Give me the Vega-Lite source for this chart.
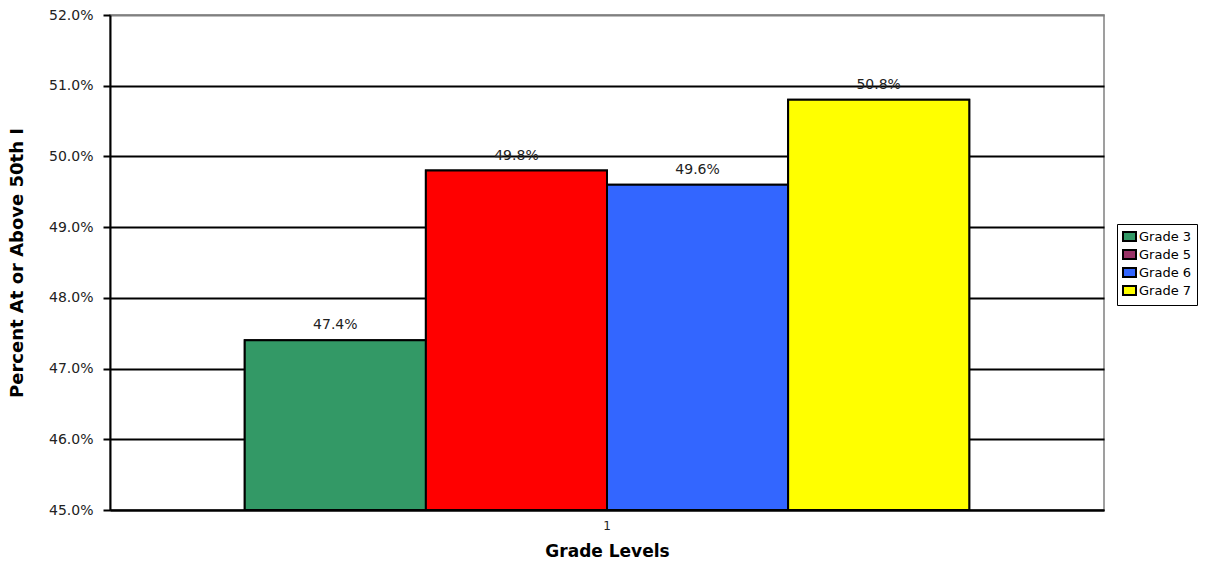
{
  "$schema": "https://vega.github.io/schema/vega-lite/v6.json",
  "width": 994,
  "height": 495,
  "autosize": "none",
  "padding": {"left": 110, "top": 15, "right": 113, "bottom": 52},
  "background": "white",
  "config": {
    "view": {"stroke": "#808080", "strokeWidth": 1.5},
    "font": "DejaVu Sans"
  },
  "data": {
    "values": [
      {"level": "1", "grade": "Grade 3", "pct": 0.474},
      {"level": "1", "grade": "Grade 5", "pct": 0.498},
      {"level": "1", "grade": "Grade 6", "pct": 0.496},
      {"level": "1", "grade": "Grade 7", "pct": 0.508}
    ]
  },
  "encoding": {
    "x": {
      "field": "level",
      "type": "nominal",
      "scale": {"paddingInner": 0, "paddingOuter": 0.186},
      "axis": {
        "title": "Grade Levels",
        "titleFontSize": 17,
        "titleFontWeight": "bold",
        "titleColor": "black",
        "titlePadding": 12,
        "labelAngle": 0,
        "labelFontSize": 12,
        "labelColor": "#222",
        "labelPadding": 10,
        "ticks": false,
        "domainColor": "black",
        "domainWidth": 2
      }
    },
    "xOffset": {
      "field": "grade",
      "type": "nominal",
      "scale": {"paddingInner": 0, "paddingOuter": 0}
    },
    "y": {
      "field": "pct",
      "type": "quantitative",
      "scale": {"domain": [0.45, 0.52], "zero": false, "nice": false},
      "axis": {
        "title": "Percent At or Above 50th I",
        "titleFontSize": 18,
        "titleFontWeight": "bold",
        "titleColor": "black",
        "titleX": -93,
        "titleBaseline": "middle",
        "values": [0.45, 0.46, 0.47, 0.48, 0.49, 0.5, 0.51, 0.52],
        "format": ".1%",
        "labelFontSize": 14,
        "labelColor": "#222",
        "labelPadding": 10,
        "tickColor": "black",
        "tickSize": 7,
        "tickWidth": 2,
        "domainColor": "black",
        "domainWidth": 2,
        "grid": true,
        "gridColor": {"condition": {"test": "datum.value >= 0.5199", "value": "#808080"}, "value": "black"},
        "gridWidth": 2
      }
    }
  },
  "layer": [
    {
      "mark": {"type": "bar", "stroke": "black", "strokeWidth": 2},
      "encoding": {
        "y2": {"datum": 0.45},
        "color": {
          "field": "grade",
          "type": "nominal",
          "scale": {"domain": ["Grade 3", "Grade 5", "Grade 6", "Grade 7"], "range": ["#339966", "#993366", "#3366FF", "#FFFF00"]},
          "legend": {
            "title": null,
            "orient": "none",
            "legendX": 1007,
            "legendY": 209,
            "strokeColor": "black",
            "fillColor": "white",
            "padding": 5,
            "labelFontSize": 13,
            "labelColor": "black",
            "labelOffset": 2,
            "symbolType": "M-1,-0.7L1,-0.7L1,0.7L-1,0.7Z",
            "symbolSize": 169,
            "symbolStrokeColor": "black",
            "symbolStrokeWidth": 2,
            "rowPadding": -1
          }
        }
      }
    },
    {
      "mark": {"type": "bar", "stroke": "black", "strokeWidth": 2},
      "encoding": {
        "y2": {"datum": 0.45},
        "fill": {
          "field": "grade",
          "type": "nominal",
          "scale": {"domain": ["Grade 3", "Grade 5", "Grade 6", "Grade 7"], "range": ["#339966", "#FF0000", "#3366FF", "#FFFF00"]},
          "legend": null
        }
      }
    },
    {
      "mark": {"type": "text", "dy": -15, "fontSize": 14, "color": "#222"},
      "encoding": {
        "text": {"field": "pct", "type": "quantitative", "format": ".1%"}
      }
    }
  ]
}
